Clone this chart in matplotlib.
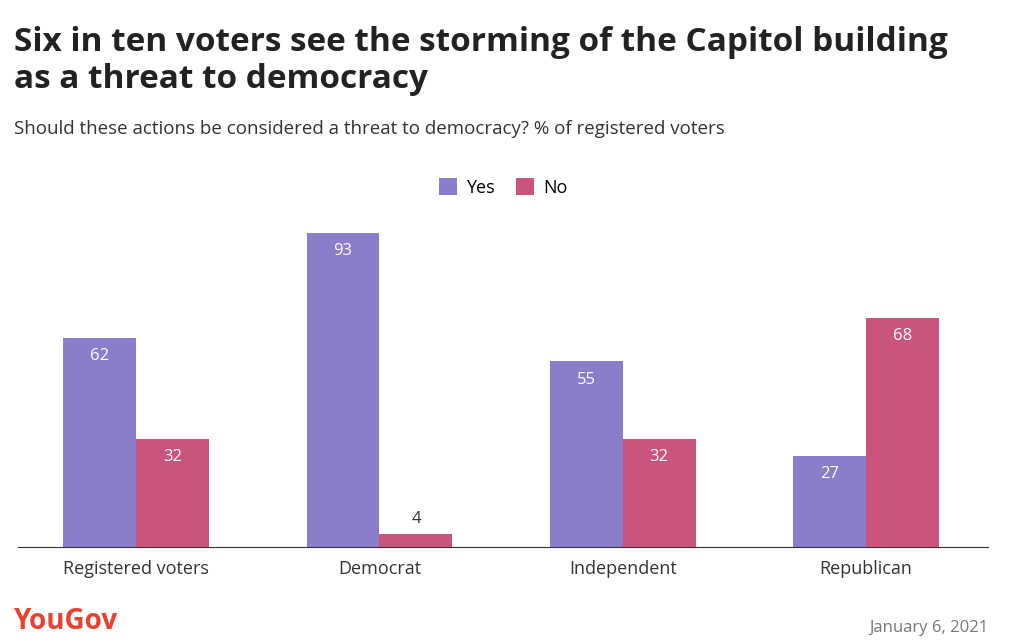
import matplotlib.pyplot as plt
import numpy as np

groups = ['Registered voters', 'Democrat', 'Independent', 'Republican']
yes = [62, 93, 55, 27]
no = [32, 4, 32, 68]

purple = '#8a7dcc'
pink = '#c9557c'

plt.rcParams['font.family'] = ['Open Sans', 'DejaVu Sans']

fig = plt.figure(figsize=(10.24, 6.44), dpi=100)
ax = fig.add_axes([0.0176, 0.1506, 0.9473, 0.524])

x = np.arange(len(groups))
w = 0.3
b1 = ax.bar(x - w/2, yes, w, color=purple, label='Yes')
b2 = ax.bar(x + w/2, no, w, color=pink, label='No')

for bars in (b1, b2):
    for r in bars:
        h = r.get_height()
        cx = r.get_x() + r.get_width()/2
        if h > 10:
            ax.text(cx, h - 3, f'{h:.0f}', ha='center', va='top', color='white', fontsize=12)
        else:
            ax.text(cx, h + 2, f'{h:.0f}', ha='center', va='bottom', color='#333333', fontsize=12)

ax.set_xlim(-0.486, 3.502)
ax.set_ylim(0, 100)
ax.set_yticks([])
ax.set_xticks(x)
ax.set_xticklabels(groups, fontsize=13, color='#333333')
ax.tick_params(axis='x', length=0, pad=9)
for s in ['top', 'right', 'left']:
    ax.spines[s].set_visible(False)
ax.spines['bottom'].set_color('#333333')

ax.legend(loc='center', bbox_to_anchor=(0.5, 1.065), ncol=2, frameon=False,
          fontsize=13, handlelength=1.0, handleheight=1.0, columnspacing=1.2, handletextpad=0.5)

fig.text(0.0137, 0.96, 'Six in ten voters see the storming of the Capitol building\nas a threat to democracy',
         fontsize=24, fontweight='bold', color='#222222', va='top', linespacing=1.15)
fig.text(0.0137, 0.80, 'Should these actions be considered a threat to democracy? % of registered voters',
         fontsize=13.5, color='#333333', va='center')
fig.text(0.0137, 0.012, 'YouGov', fontsize=20, fontweight='bold', color='#e8412c', va='bottom')
fig.text(0.965, 0.012, 'January 6, 2021', fontsize=12, color='#777777', ha='right', va='bottom')

fig.savefig('out.png', dpi=100)
